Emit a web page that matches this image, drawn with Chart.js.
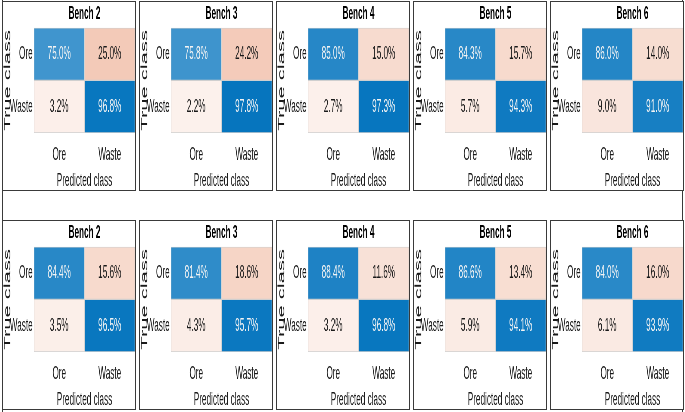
<!DOCTYPE html>
<html>
<head>
<meta charset="utf-8">
<script src="https://cdn.jsdelivr.net/npm/chart.js@4"></script>
<style>
  body { margin: 0; background: #fff; }
  #page { position: relative; width: 685px; height: 412px; overflow: hidden; }
  #frame { position: absolute; left: 2px; top: 0; width: 679px; height: 412px;
           border-left: 1px solid #3a3a3a; border-right: 1px solid #3a3a3a; }
  .panel { position: absolute; width: 132px; height: 188px; border: 1px solid #3a3a3a; background: #fff; }
  .squash { position: absolute; left: 0; top: 0; transform-origin: 0 0; }
</style>
</head>
<body>
<div id="page"><div id="frame"></div></div>
<script>
const benches = ['Bench 2', 'Bench 3', 'Bench 4', 'Bench 5', 'Bench 6'];
const classes = ['Ore', 'Waste'];

// each entry: [predicted Ore, predicted Waste] in % for that true class
const topOre = [[75.0, 25.0], [75.8, 24.2], [85.0, 15.0], [84.3, 15.7], [86.0, 14.0]];
const topWaste = [[3.2, 96.8], [2.2, 97.8], [2.7, 97.3], [5.7, 94.3], [9.0, 91.0]];
const bottomOre = [[84.4, 15.6], [81.4, 18.6], [88.4, 11.6], [86.6, 13.4], [84.0, 16.0]];
const bottomWaste = [[3.5, 96.5], [4.3, 95.7], [3.2, 96.8], [5.9, 94.1], [6.1, 93.9]];

const FONT = '"Liberation Sans", Arial, sans-serif';
const SX = 0.43;   // the figure is squeezed sideways
const FS = 19;

function blend(target, t) {
    const c = target.map(v => Math.round(255 + (v - 255) * Math.min(t, 1)));
    return 'rgb(' + c.join(',') + ')';
}
const diagColor = v => blend([0, 114, 189], v / 100);
const offColor = v => blend([217, 83, 25], 0.06 + v / 100);

const cellText = {
    id: 'cellText',
    afterDatasetsDraw(chart) {
        const ctx = chart.ctx;
        ctx.save();
        ctx.font = FS + 'px ' + FONT;
        ctx.textAlign = 'center';
        ctx.textBaseline = 'middle';
        chart.data.datasets.forEach((ds, i) => {
            chart.getDatasetMeta(i).data.forEach((bar, j) => {
                const p = bar.getProps(['x', 'y', 'base'], true);
                ctx.fillStyle = ds.textColor[j];
                ctx.fillText(ds.pct[j].toFixed(1) + '%', p.x, (p.y + p.base) / 2);
            });
        });
        ctx.restore();
    }
};

function makeRow(rowDs, diagIndex) {
    // diagIndex: which column is the correct class for this row
    return {
        data: classes.map(() => 1),
        pct: rowDs,
        backgroundColor: rowDs.map((v, j) => j === diagIndex ? diagColor(v) : offColor(v)),
        textColor: rowDs.map((v, j) => j === diagIndex ? '#f4f4f4' : '#1a1a1a'),
        borderColor: '#cfcfcf',
        borderWidth: 1,
        borderSkipped: false,
        barPercentage: 1,
        categoryPercentage: 1
    };
}

const page = document.getElementById('page');

function drawPanel(row, i, oreRow, wasteRow) {
    const panel = document.createElement('div');
    panel.className = 'panel';
    panel.style.left = (2 + 137 * i) + 'px';
    panel.style.top = (row === 0 ? 1 : 220) + 'px';
    const squash = document.createElement('div');
    squash.className = 'squash';
    squash.style.transform = 'scaleX(' + SX + ')';
    const canvas = document.createElement('canvas');
    canvas.width = Math.round(132 / SX);
    canvas.height = 188;
    squash.appendChild(canvas);
    panel.appendChild(squash);
    page.appendChild(panel);

    new Chart(canvas.getContext('2d'), {
        type: 'bar',
        data: {
            labels: classes,
            datasets: [makeRow(wasteRow, 1), makeRow(oreRow, 0)]
        },
        options: {
            responsive: false,
            animation: false,
            events: [],
            layout: { padding: 0 },
            scales: {
                x: {
                    stacked: true,
                    grid: { display: false, drawTicks: false },
                    border: { display: false },
                    ticks: { font: { size: FS, family: FONT }, color: '#1a1a1a', padding: 10 },
                    title: { display: true, text: 'Predicted class', color: '#1a1a1a',
                             font: { size: FS, family: FONT, lineHeight: 1 }, padding: 0 },
                    afterFit: s => { s.height = 57; }
                },
                y: {
                    stacked: true,
                    min: 0,
                    max: 2,
                    grid: { display: false, drawTicks: false },
                    border: { display: false },
                    afterBuildTicks: s => { s.ticks = [{ value: 0.5 }, { value: 1.5 }]; },
                    ticks: {
                        font: { size: FS, family: FONT }, color: '#1a1a1a', padding: 3,
                        callback: v => v > 1 ? classes[0] : classes[1]
                    },
                    title: { display: true, text: 'True class', color: '#1a1a1a',
                             font: { size: 22, family: FONT, lineHeight: 1 }, padding: 0 },
                    afterFit: s => { s.width = Math.round(31 / SX); }
                }
            },
            plugins: {
                legend: { display: false },
                tooltip: { enabled: false },
                title: {
                    display: true,
                    text: benches[i],
                    fullSize: false,
                    color: '#000',
                    font: { size: FS, weight: 'bold', family: FONT },
                    padding: { top: 0, bottom: 3 }
                }
            }
        },
        plugins: [cellText]
    });
}

benches.forEach((b, i) => drawPanel(0, i, topOre[i], topWaste[i]));
benches.forEach((b, i) => drawPanel(1, i, bottomOre[i], bottomWaste[i]));
</script>
</body>
</html>
